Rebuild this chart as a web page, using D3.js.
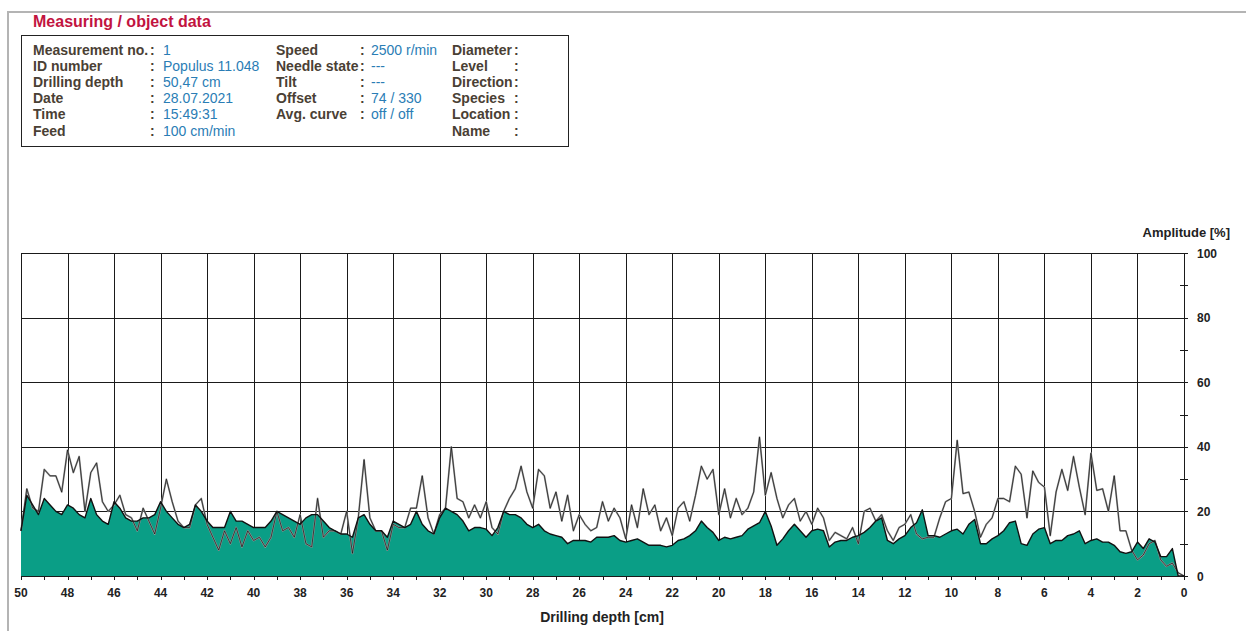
<!DOCTYPE html>
<html>
<head>
<meta charset="utf-8">
<script src="https://cdn.jsdelivr.net/npm/d3@7"></script>
<style>
  body { margin: 0; background: #fff; }
  svg { display: block; font-family: "Liberation Sans", Arial, sans-serif; }
</style>
</head>
<body>
<div id="chart"></div>
<script>
// header table
const labels1 = ["Measurement no.", "ID number", "Drilling depth", "Date", "Time", "Feed"];
const values1 = ["1", "Populus 11.048", "50,47 cm", "28.07.2021", "15:49:31", "100 cm/min"];
const labels2 = ["Speed", "Needle state", "Tilt", "Offset", "Avg. curve"];
const values2 = ["2500 r/min", "---", "---", "74 / 330", "off / off"];
const labels3 = ["Diameter", "Level", "Direction", "Species", "Location", "Name"];

// axes
const depthTicks = [50, 48, 46, 44, 42, 40, 38, 36, 34, 32, 30, 28, 26, 24, 22, 20, 18, 16, 14, 12, 10, 8, 6, 4, 2, 0];
const ampTicks = [0, 20, 40, 60, 80, 100];

// drilling depth [cm], 0.25 cm steps
const depth = [
  50, 49.75, 49.5, 49.25, 49, 48.75, 48.5, 48.25, 48, 47.75, 47.5, 47.25,
  47, 46.75, 46.5, 46.25, 46, 45.75, 45.5, 45.25, 45, 44.75, 44.5, 44.25,
  44, 43.75, 43.5, 43.25, 43, 42.75, 42.5, 42.25, 42, 41.75, 41.5, 41.25,
  41, 40.75, 40.5, 40.25, 40, 39.75, 39.5, 39.25, 39, 38.75, 38.5, 38.25,
  38, 37.75, 37.5, 37.25, 37, 36.75, 36.5, 36.25, 36, 35.75, 35.5, 35.25,
  35, 34.75, 34.5, 34.25, 34, 33.75, 33.5, 33.25, 33, 32.75, 32.5, 32.25,
  32, 31.75, 31.5, 31.25, 31, 30.75, 30.5, 30.25, 30, 29.75, 29.5, 29.25,
  29, 28.75, 28.5, 28.25, 28, 27.75, 27.5, 27.25, 27, 26.75, 26.5, 26.25,
  26, 25.75, 25.5, 25.25, 25, 24.75, 24.5, 24.25, 24, 23.75, 23.5, 23.25,
  23, 22.75, 22.5, 22.25, 22, 21.75, 21.5, 21.25, 21, 20.75, 20.5, 20.25,
  20, 19.75, 19.5, 19.25, 19, 18.75, 18.5, 18.25, 18, 17.75, 17.5, 17.25,
  17, 16.75, 16.5, 16.25, 16, 15.75, 15.5, 15.25, 15, 14.75, 14.5, 14.25,
  14, 13.75, 13.5, 13.25, 13, 12.75, 12.5, 12.25, 12, 11.75, 11.5, 11.25,
  11, 10.75, 10.5, 10.25, 10, 9.75, 9.5, 9.25, 9, 8.75, 8.5, 8.25,
  8, 7.75, 7.5, 7.25, 7, 6.75, 6.5, 6.25, 6, 5.75, 5.5, 5.25,
  5, 4.75, 4.5, 4.25, 4, 3.75, 3.5, 3.25, 3, 2.75, 2.5, 2.25,
  2, 1.75, 1.5, 1.25, 1, 0.75, 0.5, 0.25, 0
];

// filled curve (amplitude %)
const amplitude = [
  14, 25, 22, 19, 24, 22, 20, 19, 22, 21, 19, 18,
  24, 19, 17, 16, 23, 21, 18, 17, 17, 18, 18, 19,
  23, 20, 18, 16, 15, 16, 22, 20, 17, 15, 15, 15,
  20, 17, 17, 16, 15, 15, 15, 17, 20, 19, 18, 17,
  16, 18, 19, 19, 17, 15, 14, 13, 13, 12, 18, 19,
  16, 14, 14, 12, 17, 16, 15, 16, 20, 16, 14, 13,
  18, 21, 20, 19, 17, 14, 15, 15, 14.5, 12.5, 15, 20,
  19, 19, 18, 16, 15, 16, 14, 13, 12.5, 12, 10, 11,
  11, 11, 10.5, 12, 12, 12, 12.5, 11, 10.5, 11, 11.5, 10.5,
  9.5, 9.5, 9.5, 9, 9.5, 11, 11.5, 12.5, 14, 17, 15, 13.5,
  11, 12, 11.5, 12, 12.5, 14.5, 15.5, 16.5, 20, 15.5, 9.5, 11.5,
  14, 16, 14, 12, 14, 14.5, 14, 9, 10.5, 11, 11, 12,
  12.5, 13.5, 15, 17, 18, 11, 10, 11.5, 12.5, 15, 16.5, 20.5,
  12.5, 12.5, 12, 13, 14, 14.5, 13, 16, 17.5, 10, 10, 11.5,
  12.5, 14, 16.5, 17, 10, 9.5, 13, 14.5, 15, 10, 11, 11,
  12.5, 13, 14, 10, 11, 11.5, 10.5, 10.5, 9.5, 7.5, 7, 7.5,
  10.5, 8.5, 11.5, 10.5, 6, 6, 8.5, 0, 0
];

// second curve (line only)
const feedCurve = [
  14, 27, 21, 20, 33, 31, 31, 26, 39, 32, 37, 20,
  32, 35, 23, 20, 22, 25, 19, 18, 14, 21, 17, 13,
  21, 30, 23, 17, 15, 15, 22, 24, 16, 12, 8, 14,
  10, 15, 9, 14, 11, 12, 9, 12, 20, 14, 15, 12,
  19, 10, 9, 24, 12, 14, 14, 13, 20, 7, 18, 36,
  18, 14, 14, 8, 16, 15, 15, 21, 21, 31, 18, 13,
  19, 21, 40, 24, 23, 18, 22, 18, 23, 15, 13, 20,
  24, 27, 34, 26, 21, 33, 31, 21, 26, 17, 25, 14,
  19, 16, 14, 15, 23, 17, 21, 18, 11.5, 22, 15, 27,
  19, 22, 14, 18, 12.5, 21, 23, 17, 25, 34, 30, 33,
  19, 27, 18, 24, 19, 21, 26, 43, 25, 32, 24, 18,
  22, 24, 17, 20, 16, 21, 18, 11, 13.5, 12.5, 11.5, 15,
  10, 20, 21, 17, 19, 14, 11, 15, 16, 19, 13, 11.5,
  12, 12, 18, 23, 24, 42, 25.5, 26, 20, 12, 16, 18,
  24, 24, 23, 34, 31.5, 18, 32.5, 29, 27.5, 12.5, 26, 33,
  26.5, 37, 27.5, 19, 38, 26.5, 27, 20, 31, 14, 14, 8,
  5, 6.5, 10, 11, 5, 3, 4, 1, 0
];

const W = 1246, H = 631;
const svg = d3.select("#chart").append("svg")
  .attr("width", W).attr("height", H);

const textDark = "#4a4034";
const textBlue = "#2a7db5";

// outer frame
svg.append("path")
  .attr("d", `M8,${H} L8,12 L${W},12`)
  .attr("fill", "none").attr("stroke", "#b4b4b4").attr("stroke-width", 2);

// title + info box
svg.append("text").attr("x", 33).attr("y", 27)
  .attr("font-size", 16).attr("font-weight", "bold").attr("fill", "#c2143f")
  .text("Measuring / object data");

svg.append("rect").attr("x", 21.5).attr("y", 35.5).attr("width", 547).attr("height", 111)
  .attr("fill", "none").attr("stroke", "#222").attr("stroke-width", 1);

const rowY = i => 54.5 + i * 16.2;
const info = svg.append("g").attr("font-size", 14);

labels1.forEach((t, i) => {
  info.append("text").attr("x", 33).attr("y", rowY(i)).attr("font-weight", "bold").attr("fill", textDark).text(t);
  info.append("text").attr("x", 150).attr("y", rowY(i)).attr("font-weight", "bold").attr("fill", textDark).text(":");
  info.append("text").attr("x", 163).attr("y", rowY(i)).attr("fill", textBlue).text(values1[i]);
});
labels2.forEach((t, i) => {
  info.append("text").attr("x", 276).attr("y", rowY(i)).attr("font-weight", "bold").attr("fill", textDark).text(t);
  info.append("text").attr("x", 360).attr("y", rowY(i)).attr("font-weight", "bold").attr("fill", textDark).text(":");
  info.append("text").attr("x", 371).attr("y", rowY(i)).attr("fill", textBlue).text(values2[i]);
});
labels3.forEach((t, i) => {
  info.append("text").attr("x", 452).attr("y", rowY(i)).attr("font-weight", "bold").attr("fill", textDark).text(t);
  info.append("text").attr("x", 514).attr("y", rowY(i)).attr("font-weight", "bold").attr("fill", textDark).text(":");
});

// plot
const x = d3.scaleLinear().domain([50, 0]).range([21, 1184]);
const y = d3.scaleLinear().domain([0, 100]).range([576, 253]);

const grid = svg.append("g").attr("stroke", "#1a1a1a").attr("stroke-width", 1).attr("shape-rendering", "crispEdges");
grid.selectAll(".vg").data(depthTicks).enter().append("line")
  .attr("x1", d => Math.round(x(d)) + 0.5).attr("x2", d => Math.round(x(d)) + 0.5)
  .attr("y1", y(100)).attr("y2", y(0) + 4);
grid.selectAll(".hg").data(ampTicks).enter().append("line")
  .attr("x1", x(50)).attr("x2", x(0) + 4)
  .attr("y1", d => Math.round(y(d)) + 0.5).attr("y2", d => Math.round(y(d)) + 0.5);

// minor ticks
const minorX = d3.range(49, 0, -2);
grid.selectAll(".mx").data(minorX).enter().append("line")
  .attr("x1", d => Math.round(x(d)) + 0.5).attr("x2", d => Math.round(x(d)) + 0.5)
  .attr("y1", y(0)).attr("y2", y(0) + 4);
const minorY = [10, 30, 50, 70, 90];
grid.selectAll(".my").data(minorY).enter().append("line")
  .attr("x1", x(0) - 4).attr("x2", x(0) + 4)
  .attr("y1", d => Math.round(y(d)) + 0.5).attr("y2", d => Math.round(y(d)) + 0.5);

// filled curve
const area = d3.area()
  .x((d, i) => x(depth[i]))
  .y0(y(0))
  .y1(d => y(d));
svg.append("path").datum(amplitude)
  .attr("d", area).attr("fill", "#0a9e86");

const line = d3.line().x((d, i) => x(depth[i])).y(d => y(d));

// second curve: grey halo with dark core
svg.append("path").datum(feedCurve).attr("d", line)
  .attr("fill", "none").attr("stroke", "#999").attr("stroke-width", 1.8).attr("stroke-linejoin", "round");
svg.append("path").datum(feedCurve).attr("d", line)
  .attr("fill", "none").attr("stroke", "#111").attr("stroke-width", 0.7).attr("stroke-linejoin", "round");

svg.append("path").datum(amplitude).attr("d", line)
  .attr("fill", "none").attr("stroke", "#111").attr("stroke-width", 1.4).attr("stroke-linejoin", "round");

// axis line on right and bottom
svg.append("line").attr("x1", x(0)).attr("x2", x(0)).attr("y1", y(100)).attr("y2", y(0) + 4)
  .attr("stroke", "#1a1a1a").attr("shape-rendering", "crispEdges");
svg.append("line").attr("x1", x(50)).attr("x2", x(0)).attr("y1", Math.round(y(0)) + 0.5).attr("y2", Math.round(y(0)) + 0.5)
  .attr("stroke", "#1a1a1a").attr("shape-rendering", "crispEdges");

// tick labels
const lbl = svg.append("g").attr("font-size", 12).attr("font-weight", "bold").attr("fill", "#222");
lbl.selectAll(".xl").data(depthTicks).enter().append("text")
  .attr("x", d => x(d)).attr("y", 597).attr("text-anchor", "middle").text(d => d);
lbl.selectAll(".yl").data(ampTicks).enter().append("text")
  .attr("x", 1197).attr("y", d => y(d) + 4.5).text(d => d);

svg.append("text").attr("x", 1230).attr("y", 237).attr("text-anchor", "end")
  .attr("font-size", 13).attr("font-weight", "bold").attr("fill", "#222").text("Amplitude [%]");
svg.append("text").attr("x", 602).attr("y", 622).attr("text-anchor", "middle")
  .attr("font-size", 14).attr("font-weight", "bold").attr("fill", "#222").text("Drilling depth [cm]");
</script>
</body>
</html>
